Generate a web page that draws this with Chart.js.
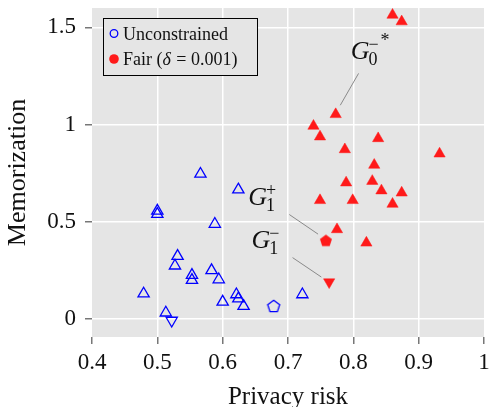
<!DOCTYPE html>
<html lang="en">
<head>
<meta charset="UTF-8">
<title>Memorization vs privacy risk</title>
<script src="https://cdn.jsdelivr.net/npm/chart.js"></script>
<style>
  html, body { margin: 0; padding: 0; background: #fff; }
  #wrap { width: 492px; height: 407px; }
</style>
</head>
<body>
<div id="wrap"><canvas id="riskChart" width="492" height="407"></canvas></div>
<script>
// axis ticks
const xTicks = [0.4, 0.5, 0.6, 0.7, 0.8, 0.9, 1];
const xTickLabels = ['0.4', '0.5', '0.6', '0.7', '0.8', '0.9', '1'];
const yTicks = [0, 0.5, 1, 1.5];
const yTickLabels = ['0', '0.5', '1', '1.5'];

// unconstrained models (blue, open triangles)
const unconstrainedRisk = [0.566, 0.624, 0.500, 0.500, 0.588, 0.531, 0.527, 0.553, 0.553,
                           0.583, 0.594, 0.479, 0.621, 0.624, 0.632, 0.600, 0.722, 0.513];
const unconstrainedMem  = [0.745, 0.664, 0.555, 0.538, 0.487, 0.322, 0.272, 0.224, 0.198,
                           0.248, 0.201, 0.128, 0.124, 0.103, 0.064, 0.086, 0.124, 0.030];
const unconstrainedG1Plus  = [0.678, 0.065];   // pentagon
const unconstrainedG1Minus = [0.522, -0.010];  // down triangle

// fair models, delta = 0.001 (red, filled triangles)
const fairRisk = [0.773, 0.739, 0.749, 0.838, 0.787, 0.932, 0.832, 0.789, 0.829,
                  0.843, 0.874, 0.749, 0.799, 0.860, 0.775, 0.820, 0.860, 0.874];
const fairMem  = [1.052, 0.992, 0.937, 0.928, 0.871, 0.849, 0.791, 0.700, 0.708,
                  0.659, 0.648, 0.609, 0.609, 0.590, 0.459, 0.390, 1.564, 1.530];
const fairG1Plus  = [0.758, 0.403];
const fairG1Minus = [0.763, 0.188];

const legendLabels = ['Unconstrained', 'Fair ('];

const BLUE = '#0000ff';
const RED = '#ff1a1a';
const SERIF = '"Liberation Serif", "Times New Roman", serif';

function toPoints(xs, ys) {
    return xs.map((x, i) => ({ x: x, y: ys[i] }));
}

// pentagon marker drawn on a small canvas
function pentagon(color, filled) {
    const c = document.createElement('canvas');
    c.width = 16; c.height = 16;
    const g = c.getContext('2d');
    const r = 6.3;
    g.beginPath();
    for (let k = 0; k < 5; k++) {
        const a = -Math.PI / 2 + k * 2 * Math.PI / 5;
        const px = 8 + r * Math.cos(a), py = 8.6 + r * Math.sin(a);
        if (k === 0) g.moveTo(px, py); else g.lineTo(px, py);
    }
    g.closePath();
    if (filled) { g.fillStyle = color; g.fill(); }
    else { g.strokeStyle = color; g.lineWidth = 1.3; g.stroke(); }
    return c;
}

// grey plot area
const plotBackground = {
    id: 'plotBackground',
    beforeDraw(chart) {
        const { ctx, chartArea: a } = chart;
        ctx.save();
        ctx.fillStyle = '#e5e5e5';
        ctx.fillRect(a.left, a.top, a.right - a.left, a.bottom - a.top);
        ctx.restore();
    }
};

// G labels with their leader lines
function drawG(ctx, x, y, sub, sup, star) {
    ctx.fillStyle = '#111';
    ctx.textBaseline = 'alphabetic';
    ctx.textAlign = 'left';
    ctx.font = 'italic 26px ' + SERIF;
    ctx.fillText('G', x, y);
    const w = ctx.measureText('G').width;
    ctx.font = '18px ' + SERIF;
    ctx.fillText(sub, x + w - 1, y + 6);
    ctx.fillText(sup, x + w - 1, y - 9);
    if (star) ctx.fillText(star, x + w + 11, y - 13);
}

const annotations = {
    id: 'annotations',
    afterDatasetsDraw(chart) {
        const { ctx, scales: { x, y } } = chart;
        ctx.save();
        ctx.strokeStyle = '#8a8a8a';
        ctx.lineWidth = 1;
        const lines = [
            [0.808, 1.263, 0.780, 1.099],
            [0.702, 0.536, 0.746, 0.435],
            [0.707, 0.314, 0.751, 0.214]
        ];
        lines.forEach(l => {
            ctx.beginPath();
            ctx.moveTo(x.getPixelForValue(l[0]), y.getPixelForValue(l[1]));
            ctx.lineTo(x.getPixelForValue(l[2]), y.getPixelForValue(l[3]));
            ctx.stroke();
        });
        drawG(ctx, x.getPixelForValue(0.796), y.getPixelForValue(1.337), '0', '\u2212', '*');
        drawG(ctx, x.getPixelForValue(0.639), y.getPixelForValue(0.584), '1', '+');
        drawG(ctx, x.getPixelForValue(0.644), y.getPixelForValue(0.362), '1', '\u2212');

        // legend box
        const bx = 103, by = 18, bw = 154, bh = 57;
        ctx.fillStyle = '#e5e5e5';
        ctx.fillRect(bx, by, bw, bh);
        ctx.strokeStyle = '#000';
        ctx.lineWidth = 1;
        ctx.strokeRect(bx + 0.5, by + 0.5, bw, bh);

        ctx.beginPath();
        ctx.arc(114, 33.5, 3.8, 0, 2 * Math.PI);
        ctx.strokeStyle = BLUE;
        ctx.lineWidth = 1.3;
        ctx.stroke();
        ctx.beginPath();
        ctx.arc(114, 59, 4.8, 0, 2 * Math.PI);
        ctx.fillStyle = RED;
        ctx.fill();

        ctx.fillStyle = '#111';
        ctx.textAlign = 'left';
        ctx.textBaseline = 'alphabetic';
        ctx.font = '18px ' + SERIF;
        ctx.fillText(legendLabels[0], 123, 39.5);
        ctx.fillText(legendLabels[1], 123, 65);
        let tx = 123 + ctx.measureText(legendLabels[1]).width;
        ctx.font = 'italic 18px ' + SERIF;
        ctx.fillText('\u03b4', tx, 65);
        tx += ctx.measureText('\u03b4').width;
        ctx.font = '18px ' + SERIF;
        ctx.fillText(' = 0.001)', tx + 1, 65);
        ctx.restore();
    }
};

const ctx = document.getElementById('riskChart').getContext('2d');
new Chart(ctx, {
    type: 'scatter',
    data: {
        datasets: [
            {
                label: 'Unconstrained',
                data: toPoints(unconstrainedRisk, unconstrainedMem),
                pointStyle: 'triangle', pointRadius: 6.5, pointBorderWidth: 1.3,
                borderColor: BLUE, backgroundColor: 'rgba(0,0,0,0)'
            },
            {
                label: 'Unconstrained G1+',
                data: [{ x: unconstrainedG1Plus[0], y: unconstrainedG1Plus[1] }],
                pointStyle: pentagon(BLUE, false), pointRadius: 7
            },
            {
                label: 'Unconstrained G1-',
                data: [{ x: unconstrainedG1Minus[0], y: unconstrainedG1Minus[1] }],
                pointStyle: 'triangle', rotation: 180, pointRadius: 6.5, pointBorderWidth: 1.3,
                borderColor: BLUE, backgroundColor: 'rgba(0,0,0,0)'
            },
            {
                label: 'Fair',
                data: toPoints(fairRisk, fairMem),
                pointStyle: 'triangle', pointRadius: 6.5, pointBorderWidth: 0.5,
                borderColor: RED, backgroundColor: RED
            },
            {
                label: 'Fair G1+',
                data: [{ x: fairG1Plus[0], y: fairG1Plus[1] }],
                pointStyle: pentagon(RED, true), pointRadius: 7
            },
            {
                label: 'Fair G1-',
                data: [{ x: fairG1Minus[0], y: fairG1Minus[1] }],
                pointStyle: 'triangle', rotation: 180, pointRadius: 6.5, pointBorderWidth: 0.5,
                borderColor: RED, backgroundColor: RED
            }
        ]
    },
    options: {
        responsive: false,
        animation: false,
        clip: false,
        layout: { padding: { top: 8, right: 2.5, left: 0, bottom: 0 } },
        plugins: {
            legend: { display: false },
            tooltip: { enabled: false }
        },
        scales: {
            x: {
                type: 'linear',
                min: 0.4, max: 1,
                afterBuildTicks: s => { s.ticks = xTicks.map(v => ({ value: v })); },
                afterFit: s => { s.height = 70; s.paddingRight = 0; s.paddingLeft = 0; },
                ticks: {
                    callback: v => xTickLabels[xTicks.indexOf(v)],
                    font: { family: SERIF, size: 23 },
                    color: '#111',
                    padding: 5,
                    maxRotation: 0
                },
                grid: {
                    color: c => (c.tick && (c.tick.value === 0.4 || c.tick.value === 1)) ? 'rgba(0,0,0,0)' : '#ffffff',
                    lineWidth: 1.5,
                    tickColor: '#777',
                    tickLength: 7
                },
                border: { display: false },
                title: {
                    display: true,
                    text: 'Privacy risk',
                    font: { family: SERIF, size: 25, lineHeight: 0.8 },
                    color: '#111',
                    padding: { top: 0, bottom: 0 }
                }
            },
            y: {
                type: 'linear',
                min: -0.095, max: 1.6,
                afterBuildTicks: s => { s.ticks = yTicks.map(v => ({ value: v })); },
                afterFit: s => { s.width = 92; s.paddingTop = 0; s.paddingBottom = 0; },
                ticks: {
                    callback: v => yTickLabels[yTicks.indexOf(v)],
                    font: { family: SERIF, size: 23 },
                    color: '#111',
                    padding: 9
                },
                grid: {
                    color: '#ffffff',
                    lineWidth: 1.5,
                    tickColor: '#777',
                    tickLength: 7
                },
                border: { display: false },
                title: {
                    display: true,
                    text: 'Memorization',
                    font: { family: SERIF, size: 26, lineHeight: 1 },
                    color: '#111',
                    padding: { top: 5, bottom: 0 }
                }
            }
        }
    },
    plugins: [plotBackground, annotations]
});
</script>
</body>
</html>
